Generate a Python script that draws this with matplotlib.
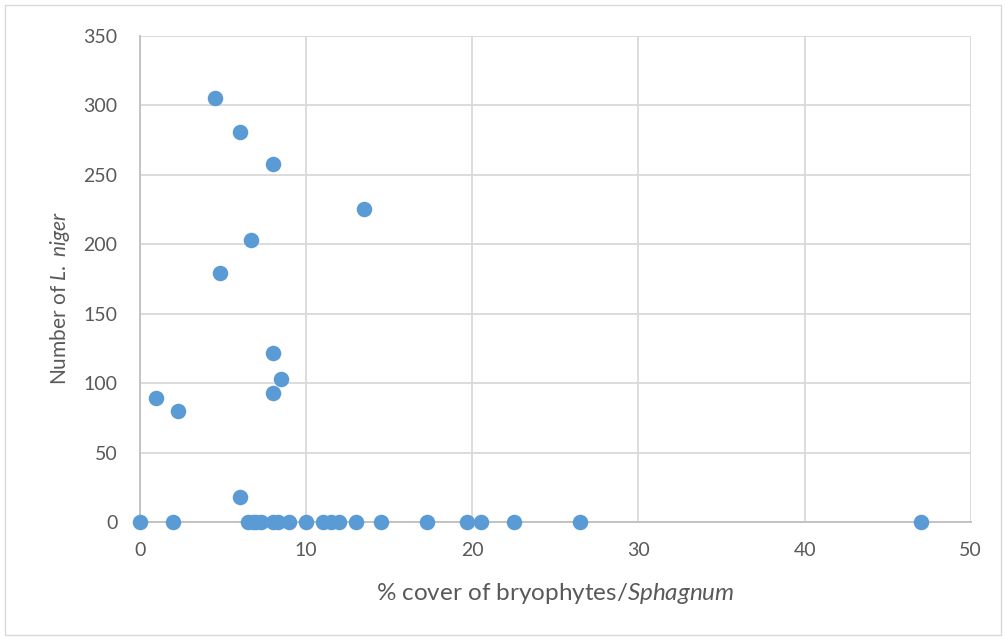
import matplotlib
matplotlib.use("Agg")
import matplotlib.pyplot as plt
from matplotlib.patches import Rectangle

# cover (%) and counts per quadrat
cover_present = [4.5, 6.0, 8.0, 13.5, 6.7, 4.8, 8.0, 8.5, 8.0, 1.0, 2.3, 6.0]
count_present = [305, 281, 258, 225, 203, 179, 122, 103, 93, 89, 80, 18]
cover_absent = [0, 2.0, 6.5, 6.8, 7.0, 7.3, 8.0, 8.3, 9.0, 10.0, 11.0, 11.5,
                12.0, 13.0, 14.5, 17.3, 19.7, 20.5, 22.5, 26.5, 47.0]
count_absent = [0] * len(cover_absent)

x_ticks = [0, 10, 20, 30, 40, 50]
y_ticks = [0, 50, 100, 150, 200, 250, 300, 350]

plt.rcParams['font.family'] = ['Lato', 'DejaVu Sans']
plt.rcParams['mathtext.fontset'] = 'custom'
plt.rcParams['mathtext.rm'] = 'Lato'
plt.rcParams['mathtext.it'] = 'Lato:italic'
txt = '#595959'

fig = plt.figure(figsize=(10.06, 6.39), dpi=100)
ax = fig.add_axes([0.139, 0.183, 0.826, 0.761])

xs = cover_present + cover_absent
ys = count_present + count_absent
ax.scatter(xs, ys, s=125, color='#5B9BD5', zorder=3, clip_on=False, linewidths=0)

ax.set_xlim(0, 50)
ax.set_ylim(0, 350)
ax.set_xticks(x_ticks)
ax.set_yticks(y_ticks)
ax.grid(True, color='#D9D9D9', linewidth=1.3, zorder=0)
ax.set_axisbelow(True)
for s in ['top', 'right']:
    ax.spines[s].set_visible(False)
for s in ['left', 'bottom']:
    ax.spines[s].set_color('#BFBFBF')
    ax.spines[s].set_linewidth(1.3)
ax.tick_params(length=0, labelsize=14, labelcolor=txt)
ax.tick_params(axis='x', pad=14)
ax.tick_params(axis='y', pad=16)

ax.set_xlabel('% cover of bryophytes/$\\it{Sphagnum}$', fontsize=17.5, color=txt, labelpad=16)
ax.set_ylabel('Number of $\\it{L.}$ $\\it{niger}$', fontsize=15, color=txt)
ax.yaxis.set_label_coords(-0.082, 0.46)

fig.patches.append(Rectangle((0.005, 0.006), 0.99, 0.986, transform=fig.transFigure,
                             fill=False, edgecolor='#D9D9D9', linewidth=1))

fig.savefig('out.png', dpi=100)
